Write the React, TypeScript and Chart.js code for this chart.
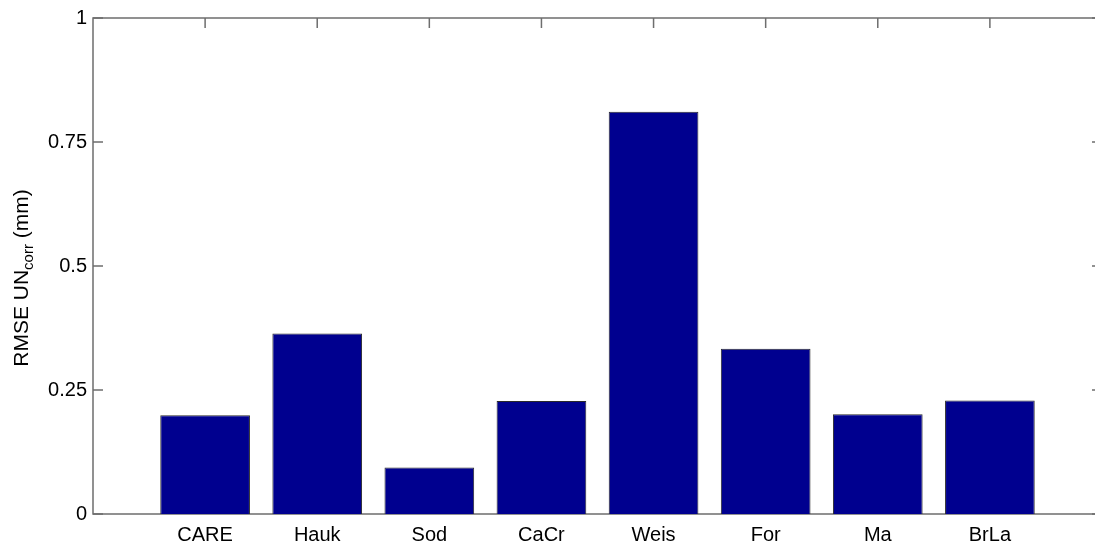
import React, { useEffect, useRef } from 'react';
import { Chart, registerables } from 'chart.js';

Chart.register(...registerables);

const categories = ['CARE', 'Hauk', 'Sod', 'CaCr', 'Weis', 'For', 'Ma', 'BrLa'];
const rmseValues = [0.199, 0.364, 0.094, 0.228, 0.811, 0.333, 0.201, 0.229];
const yTicks = [0, 0.25, 0.5, 0.75, 1];
const yTickLabels = ['0', '0.25', '0.5', '0.75', '1'];

const AXIS_COLOR = '#6e6e6e';
const FONT = 'Liberation Sans, Arial, Helvetica, sans-serif';

// Box outline with inward ticks on all four sides, drawn under the bars
const axesBoxPlugin = {
  id: 'axesBox',
  beforeDatasetsDraw(chart: any) {
    const { ctx, chartArea, scales } = chart;
    const { left, right, top, bottom } = chartArea;
    const tl = 10;
    ctx.save();
    ctx.strokeStyle = AXIS_COLOR;
    ctx.lineWidth = 1.5;
    ctx.beginPath();
    ctx.rect(left, top, right - left, bottom - top);
    ctx.stroke();
    ctx.beginPath();
    yTicks.forEach((v) => {
      const py = scales.y.getPixelForValue(v);
      ctx.moveTo(left, py);
      ctx.lineTo(left + tl, py);
      ctx.moveTo(right, py);
      ctx.lineTo(right - tl, py);
    });
    categories.forEach((_, i) => {
      const px = scales.x.getPixelForValue(i + 1);
      ctx.moveTo(px, top);
      ctx.lineTo(px, top + tl);
      ctx.moveTo(px, bottom);
      ctx.lineTo(px, bottom - tl);
    });
    ctx.stroke();
    ctx.restore();
  },
  afterDraw(chart: any) {
    // Rotated y-axis title with subscript
    const { ctx, chartArea } = chart;
    const cy = (chartArea.top + chartArea.bottom) / 2 + 12;
    const main = 'RMSE UN';
    const sub = 'corr';
    const tail = ' (mm)';
    ctx.save();
    ctx.translate(28, cy);
    ctx.rotate(-Math.PI / 2);
    ctx.fillStyle = '#000';
    ctx.textBaseline = 'alphabetic';
    ctx.textAlign = 'left';
    const mainFont = `21px ${FONT}`;
    const subFont = `15px ${FONT}`;
    ctx.font = mainFont;
    const wMain = ctx.measureText(main).width;
    const wTail = ctx.measureText(tail).width;
    ctx.font = subFont;
    const wSub = ctx.measureText(sub).width;
    const total = wMain + wSub + wTail;
    let x = -total / 2;
    ctx.font = mainFont;
    ctx.fillText(main, x, 0);
    x += wMain;
    ctx.font = subFont;
    ctx.fillText(sub, x, 5);
    x += wSub;
    ctx.font = mainFont;
    ctx.fillText(tail, x, 0);
    ctx.restore();
  },
};

export default function App() {
  const canvasRef = useRef<HTMLCanvasElement>(null);

  useEffect(() => {
    if (!canvasRef.current) return;
    const chart = new Chart(canvasRef.current, {
      type: 'bar',
      data: {
        datasets: [
          {
            data: categories.map((c, i) => ({ x: i + 1, y: rmseValues[i] })),
            backgroundColor: '#00008f',
            borderColor: '#2a2a2a',
            borderWidth: 1,
            barPercentage: 0.8,
            categoryPercentage: 1,
          },
        ],
      },
      options: {
        responsive: false,
        animation: false,
        layout: { padding: { top: 16, right: 8, left: 0, bottom: 0 } },
        plugins: {
          legend: { display: false },
          tooltip: { enabled: false },
        },
        scales: {
          x: {
            type: 'linear',
            min: 0,
            max: 9,
            offset: false,
            grid: { display: false, drawTicks: false, offset: false },
            border: { display: false },
            afterBuildTicks: (scale: any) => {
              scale.ticks = categories.map((_, i) => ({ value: i + 1 }));
            },
            afterFit: (scale: any) => {
              scale.height = 32;
            },
            ticks: {
              autoSkip: false,
              maxRotation: 0,
              padding: 9,
              color: '#000',
              font: { family: FONT, size: 20 },
              callback: (v: any) => categories[Number(v) - 1] ?? '',
            },
          },
          y: {
            min: 0,
            max: 1,
            grid: { display: false, drawTicks: false },
            border: { display: false },
            afterBuildTicks: (scale: any) => {
              scale.ticks = yTicks.map((v) => ({ value: v }));
            },
            afterFit: (scale: any) => {
              scale.width = 93;
            },
            ticks: {
              padding: 6,
              color: '#000',
              font: { family: FONT, size: 20 },
              callback: (v: any) => yTickLabels[yTicks.indexOf(Number(v))] ?? '',
            },
          },
        },
      },
      plugins: [axesBoxPlugin],
    });
    return () => chart.destroy();
  }, []);

  return (
    <div
      style={{
        position: 'fixed',
        left: 0,
        top: 0,
        width: 1095,
        height: 546,
        overflow: 'hidden',
        background: '#fff',
      }}
    >
      <canvas ref={canvasRef} width={1110} height={546} style={{ display: 'block' }} />
    </div>
  );
}
